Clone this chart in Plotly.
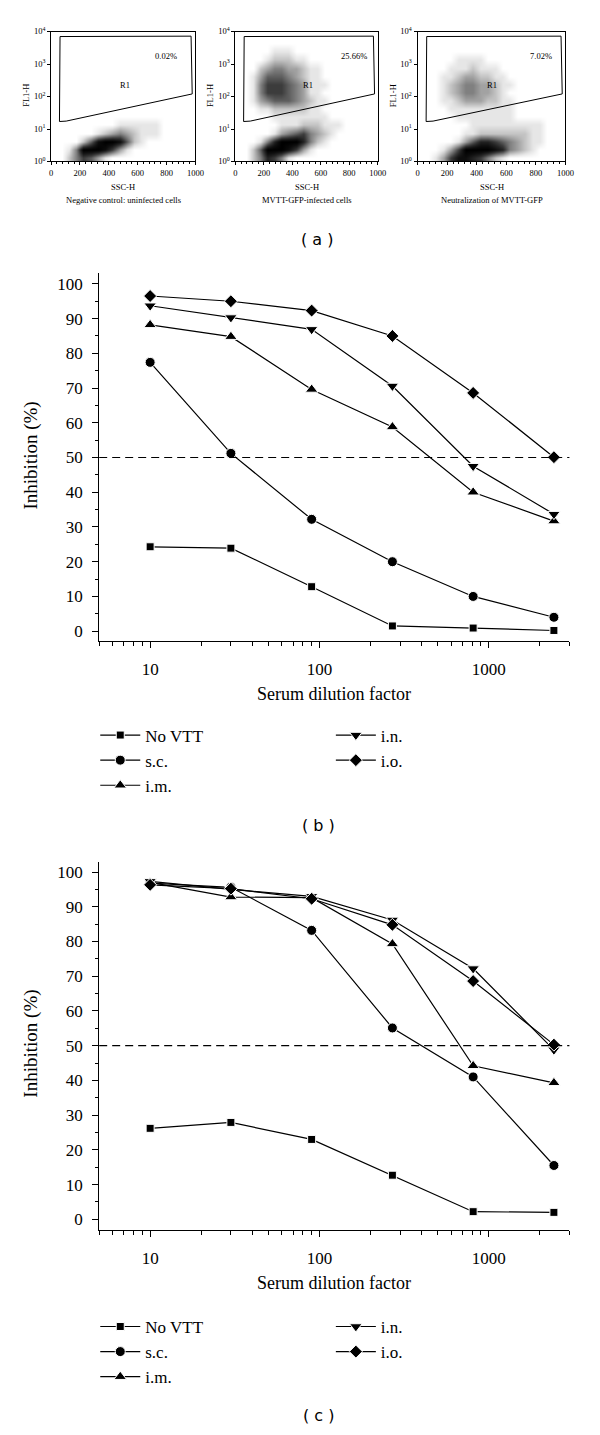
import numpy as np
import plotly.graph_objects as go

FIG_W, FIG_H = 600, 1435
SERIF = "Liberation Serif"
SANS = "DejaVu Sans"

# ---------------- (a) flow-cytometry dot plots ----------------
ssc_bin_centers = [25, 75, 125, 175, 225, 275, 325, 375, 425, 475,
                   525, 575, 625, 675, 725, 775, 825, 875, 925, 975]
fl1_decade_bin_centers = [0.125, 0.375, 0.625, 0.875, 1.125, 1.375, 1.625, 1.875,
                          2.125, 2.375, 2.625, 2.875, 3.125, 3.375, 3.625, 3.875]

# dot density: 0 = empty .. 9 = solid black
# one string per FL1 bin (row 0 = lowest), one character per SSC bin
neg_density = [
    "00246531000000000000",
    "00149998631000000000",
    "00002589985210000000",
    "00000012343211100000",
    "00000000011111100000",
    "00000000000000000000",
    "00000000000000000000",
    "00000000000000000000",
    "00000000000000000000",
    "00000000000000000000",
    "00000000000000000000",
    "00000000000000000000",
    "00000000000000000000",
    "00000000000000000000",
    "00000000000000000000",
    "00000000000000000000",
]
inf_density = [
    "00247641000000000000",
    "00259998631000000000",
    "00014799974210000000",
    "00000134564321000000",
    "00000011122211100000",
    "00000111111110000000",
    "00011222221100000000",
    "00134555432110000000",
    "00146665431100000000",
    "00146665431110000000",
    "00135554321100000000",
    "00023443321100000000",
    "00001222110000000000",
    "00000111000000000000",
    "00000000000000000000",
    "00000000000000000000",
]
neu_density = [
    "00136887642100000000",
    "00013699998743210000",
    "00000135776543211000",
    "00000011222222211000",
    "00000001111111111000",
    "00000111111110000000",
    "00001111111110000000",
    "00011233322110000000",
    "00012344332100000000",
    "00012344332110000000",
    "00011233221100000000",
    "00001112111000000000",
    "00000111100000000000",
    "00000000000000000000",
    "00000000000000000000",
    "00000000000000000000",
]

gate_ssc = [58, 62, 970, 978, 105, 58]
gate_fl1 = [17, 7000, 7200, 120, 17.5, 17]
r1_percent = ["0.02%", "25.66%", "7.02%"]
panel_titles = ["Negative control: uninfected cells",
                "MVTT-GFP-infected cells",
                "Neutralization of MVTT-GFP"]
ssc_ticks = [0, 200, 400, 600, 800, 1000]
fl1_tick_exponents = [0, 1, 2, 3, 4]

# ---------------- (b), (c) neutralization curves ----------------
dilution = [10, 30, 90, 270, 810, 2430]
series_names = ["No VTT", "s.c.", "i.m.", "i.n.", "i.o."]

b_no_vtt = [24.3, 23.9, 12.8, 1.5, 0.9, 0.2]
b_sc = [77.4, 51.2, 32.2, 20.0, 10.0, 4.0]
b_im = [88.2, 84.8, 69.6, 58.8, 40.0, 31.7]
b_in = [93.7, 90.3, 86.9, 70.6, 47.5, 33.7]
b_io = [96.5, 95.0, 92.3, 85.0, 68.6, 50.1]

c_no_vtt = [26.2, 27.9, 23.0, 12.7, 2.2, 2.0]
c_sc = [96.8, 95.6, 83.2, 55.1, 41.0, 15.5]
c_im = [97.0, 92.8, 92.6, 79.3, 44.2, 39.3]
c_in = [97.3, 95.0, 93.0, 86.2, 72.2, 48.8]
c_io = [96.3, 95.2, 92.3, 84.8, 68.6, 50.3]

inhibition_ticks = [0, 10, 20, 30, 40, 50, 60, 70, 80, 90, 100]
dilution_ticks = [10, 100, 1000]
dilution_minor_ticks = [5, 6, 7, 8, 9, 20, 30, 40, 50, 60, 70, 80, 90,
                        200, 300, 400, 500, 600, 700, 800, 900, 2000, 3000]
half_inhibition = 50


def px_x(p):
    return p / FIG_W


def px_y(p):
    return 1 - p / FIG_H


def note(x, y, text, font, angle=0):
    return dict(xref="paper", yref="paper", x=px_x(x), y=px_y(y), text=text,
                textangle=angle, showarrow=False, font=font,
                xanchor="center", yanchor="middle")


fig = go.Figure()
annotations = []
layout_axes = {}

# ---- panel (a) ----
flow_x_px = [(50, 197), (237.7, 382.7), (423.3, 574)]
flow_y_px = (25.7, 156.7)
densities = [neg_density, inf_density, neu_density]
r1_label_x = [511, 510, 500]
pct_label_x = [795, 837, 836]
gray_scale = [[0, "#ffffff"], [0.111, "#e6e6e6"], [0.222, "#c4c4c4"], [0.333, "#a2a2a2"],
              [0.444, "#808080"], [0.555, "#5e5e5e"], [0.666, "#3c3c3c"],
              [0.777, "#222222"], [0.888, "#0e0e0e"], [1, "#000000"]]

for i in range(3):
    k = i + 1
    xs = "x" if k == 1 else f"x{k}"
    ys = "y" if k == 1 else f"y{k}"
    z = np.array([[int(c) for c in row] for row in densities[i]])
    fig.add_trace(go.Heatmap(x=ssc_bin_centers, y=fl1_decade_bin_centers, z=z,
                             colorscale=gray_scale, zmin=0, zmax=9, showscale=False,
                             zsmooth="best", hoverinfo="skip", xaxis=xs, yaxis=ys))
    fig.add_trace(go.Scatter(x=gate_ssc, y=np.log10(gate_fl1), mode="lines",
                             line=dict(color="black", width=1), showlegend=False,
                             hoverinfo="skip", xaxis=xs, yaxis=ys))
    l, r = flow_x_px[i]
    axfont = dict(family=SERIF, size=8.5, color="black")
    layout_axes["xaxis" if k == 1 else f"xaxis{k}"] = dict(
        domain=[px_x(l), px_x(r)], range=[0, 1000], anchor=ys,
        showline=True, mirror=True, linecolor="black", linewidth=1,
        ticks="outside", ticklen=3, tickwidth=1, tickcolor="black",
        tickvals=ssc_ticks, tickfont=axfont, showgrid=False, zeroline=False,
        minor=dict(ticks="outside", dtick=40, ticklen=2, tickcolor="black", showgrid=False),
    )
    layout_axes["yaxis" if k == 1 else f"yaxis{k}"] = dict(
        domain=[px_y(flow_y_px[1]), px_y(flow_y_px[0])], range=[0, 4], anchor=xs,
        showline=True, mirror=True, linecolor="black", linewidth=1,
        ticks="outside", ticklen=3, tickwidth=1, tickcolor="black",
        tickvals=fl1_tick_exponents,
        ticktext=[f"10<sup>{e}</sup>" for e in fl1_tick_exponents],
        tickfont=axfont, showgrid=False, zeroline=False,
    )
    annotations.append(dict(xref=xs, yref=ys, x=r1_label_x[i], y=2.34, text="R1",
                            showarrow=False, font=axfont, xanchor="center", yanchor="middle"))
    annotations.append(dict(xref=xs, yref=ys, x=pct_label_x[i], y=3.24, text=r1_percent[i],
                            showarrow=False, font=axfont, xanchor="center", yanchor="middle"))
    annotations.append(note(l - 25, 90, "FL1-H", axfont, -90))
    annotations.append(note((l + r) / 2, 182.5, "SSC-H", axfont))
    annotations.append(note((l + r) / 2, 195, panel_titles[i], axfont))

# ---- panels (b), (c) ----
symbols = ["square", "circle", "triangle-up", "triangle-down", "diamond"]
msizes = [8, 10, 11, 11, 10]
charts = [
    dict(k=4, data=[b_no_vtt, b_sc, b_im, b_in, b_io], ypx=(269.3, 640), yr=[-2.857, 103.06],
         legends=("legend", "legend2"), title_y=452.5, xtitle_y=693, label="( b )", label_y=826,
         leg_top=717),
    dict(k=5, data=[c_no_vtt, c_sc, c_im, c_in, c_io], ypx=(862.7, 1233.5), yr=[-3.09, 102.86],
         legends=("legend3", "legend4"), title_y=1045.2, xtitle_y=1286.7, label="( c )", label_y=1420,
         leg_top=1313),
]
chart_font = dict(family=SERIF, size=17, color="black")
for ch in charts:
    k = ch["k"]
    xs, ys = f"x{k}", f"y{k}"
    for j, name in enumerate(series_names):
        fig.add_trace(go.Scatter(
            x=dilution, y=ch["data"][j], name=name, mode="lines+markers",
            line=dict(color="black", width=1.2),
            marker=dict(symbol=symbols[j], size=msizes[j], color="black",
                        line=dict(color="white", width=1)),
            legend=ch["legends"][0] if j < 3 else ch["legends"][1],
            xaxis=xs, yaxis=ys, hoverinfo="skip"))
    layout_axes[f"xaxis{k}"] = dict(
        type="log", domain=[px_x(99), px_x(578)], range=[np.log10(5), np.log10(3000)],
        anchor=ys, showline=True, linecolor="black", linewidth=1.3,
        ticks="outside", ticklen=6, tickwidth=1.2, tickcolor="black",
        tickmode="array", tickvals=dilution_ticks, ticktext=[str(t) for t in dilution_ticks],
        tickfont=chart_font, showgrid=False, zeroline=False, ticklabelstandoff=6,
        minor=dict(ticks="outside", tickmode="array", tickvals=dilution_minor_ticks,
                   ticklen=3.5, tickwidth=1.2, tickcolor="black", showgrid=False),
    )
    layout_axes[f"yaxis{k}"] = dict(
        domain=[px_y(ch["ypx"][1]), px_y(ch["ypx"][0])], range=ch["yr"], anchor=xs,
        showline=True, linecolor="black", linewidth=1.3,
        ticks="outside", ticklen=6, tickwidth=1.2, tickcolor="black",
        tickmode="array", tickvals=inhibition_ticks, tickfont=chart_font,
        showgrid=False, zeroline=False, ticklabelstandoff=6,
        minor=dict(ticks="outside", dtick=5, ticklen=3.5, tickwidth=1.2,
                   tickcolor="black", showgrid=False),
    )
    fig.add_shape(type="line", xref=f"{xs} domain", yref=ys, x0=0, x1=1,
                  y0=half_inhibition, y1=half_inhibition,
                  line=dict(color="black", width=1.2, dash="8px,5px"))
    annotations.append(note(30, ch["title_y"], "Inhibition (%)",
                            dict(family=SERIF, size=19, color="black"), -90))
    annotations.append(note(338, ch["xtitle_y"], "Serum dilution factor",
                            dict(family=SERIF, size=18, color="black")))
    annotations.append(note(322, ch["label_y"], ch["label"],
                            dict(family=SANS, size=16, color="black")))
    leg_common = dict(yanchor="top", xanchor="left", bgcolor="rgba(0,0,0,0)",
                      font=dict(family=SERIF, size=17, color="black"), itemwidth=40,
                      tracegroupgap=0, y=px_y(ch["leg_top"]))
    layout_axes[ch["legends"][0]] = dict(x=px_x(95), **leg_common)
    layout_axes[ch["legends"][1]] = dict(x=px_x(335), **leg_common)

annotations.append(note(321, 235, "( a )", dict(family=SANS, size=16, color="black")))

fig.update_layout(
    width=FIG_W, height=FIG_H, margin=dict(l=0, r=0, t=0, b=0),
    paper_bgcolor="white", plot_bgcolor="white",
    showlegend=True, annotations=annotations, **layout_axes,
)
fig.write_html("out.html", config={"displayModeBar": False},
               post_script="document.body.style.margin='0px';")
